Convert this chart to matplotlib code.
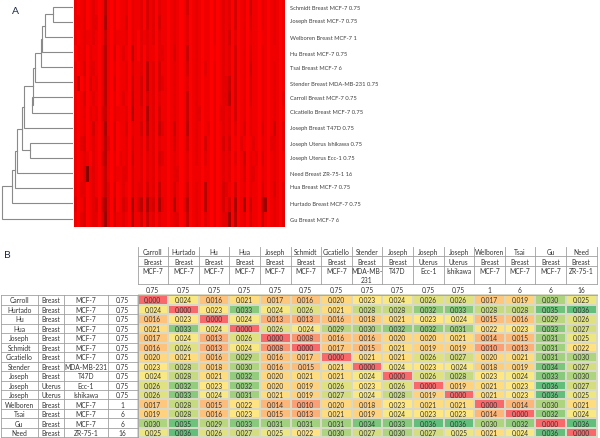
import numpy as np
import matplotlib
matplotlib.use("Agg")
import matplotlib.pyplot as plt
from matplotlib.colors import LinearSegmentedColormap, TwoSlopeNorm

plt.rcParams["font.family"] = ["Lato", "DejaVu Sans"]

# panel A
leaf_labels = [
    "Schmidt Breast MCF-7 0.75", "Joseph Breast MCF-7 0.75", "Welboren Breast MCF-7 1",
    "Hu Breast MCF-7 0.75", "Tsai Breast MCF-7 6", "Stender Breast MDA-MB-231 0.75",
    "Carroll Breast MCF-7 0.75", "Cicatiello Breast MCF-7 0.75", "Joseph Breast T47D 0.75",
    "Joseph Uterus Ishikawa 0.75", "Joseph Uterus Ecc-1 0.75", "Need Breast ZR-75-1 16",
    "Hua Breast MCF-7 0.75", "Hurtado Breast MCF-7 0.75", "Gu Breast MCF-7 6",
]
label_y = [8, 21, 38, 54, 68, 84, 99, 113, 129, 145, 159, 175, 188, 205, 221]

# merges: two nodes (leaf 0-14, then 15+ for merged ones) and the height in px
merges = [
    (0, 1, 53), (15, 2, 45), (16, 3, 42), (17, 4, 40.5), (18, 5, 34.5),
    (6, 7, 31.5), (19, 20, 32.5), (21, 8, 24), (9, 10, 30), (22, 23, 21.5),
    (24, 11, 17), (25, 12, 15), (26, 13, 11.5), (27, 14, 2),
]

# darkness of the stripes, one digit per stripe
stripes = [
    "1012012101 5102011202 1120312021 1012101301 2101102012 1203012041 1021012101",
    "1112012201 6102011302 1120312031 1012101201 2101102012 1203012031 1021012101",
    "1012112101 4102111202 1021212021 1012101201 2101102012 1302012021 1011012101",
    "0112021102 5103012105 1020211022 1013101401 2101101012 1203012031 1021011101",
    "1013022102 5102011203 1120512031 1012101301 2102102012 1203012041 1021012101",
    "1402031202 5103011204 1130512032 1012101201 2101102012 2403012031 1021012101",
    "1013012102 5102012105 1130312021 1012101401 2101102012 2503012031 1021012102",
    "1012021203 4102111206 1120612031 1012101401 2201102022 1203012021 1021012101",
    "1012013102 6103011302 1130512042 1014101501 2101202012 1202013021 1031014102",
    "1023012102 5203011203 1120312021 1013101301 2103102013 1301021012 1021022102",
    "1012102103 5102021204 1120212032 1012101201 2102102012 1202014021 2031012101",
    "1013912102 4102112203 1120212021 1012201201 1101102012 1201013022 1021012101",
    "1022012102 4203012103 1220312041 1013101301 2105102013 2103012021 1031013102",
    "2013012304 6204013207 1350623062 1016102501 2105102013 1306017041 1057012102",
    "1023012203 7203112106 1130412021 1012201401 2102102012 2705012031 1041012102",
]

# panel B
names = ["Carroll", "Hurtado", "Hu", "Hua", "Joseph", "Schmidt", "Cicatiello", "Stender",
         "Joseph", "Joseph", "Joseph", "Welboren", "Tsai", "Gu", "Need"]
tissues = ["Breast", "Breast", "Breast", "Breast", "Breast", "Breast", "Breast", "Breast",
           "Breast", "Uterus", "Uterus", "Breast", "Breast", "Breast", "Breast"]
cells = ["MCF-7", "MCF-7", "MCF-7", "MCF-7", "MCF-7", "MCF-7", "MCF-7", "MDA-MB-231",
         "T47D", "Ecc-1", "Ishikawa", "MCF-7", "MCF-7", "MCF-7", "ZR-75-1"]
doses = ["0.75"] * 11 + ["1", "6", "6", "16"]

dist = np.array([
    [.000, .024, .016, .021, .017, .016, .020, .023, .024, .026, .026, .017, .019, .030, .025],
    [.024, .000, .023, .033, .024, .026, .021, .028, .028, .032, .033, .028, .028, .035, .036],
    [.016, .023, .000, .024, .013, .013, .016, .018, .021, .023, .024, .015, .016, .029, .026],
    [.021, .033, .024, .000, .026, .024, .029, .030, .032, .032, .031, .022, .023, .033, .027],
    [.017, .024, .013, .026, .000, .008, .016, .016, .020, .020, .021, .014, .015, .031, .025],
    [.016, .026, .013, .024, .008, .000, .017, .015, .021, .019, .019, .010, .013, .031, .022],
    [.020, .021, .016, .029, .016, .017, .000, .021, .021, .026, .027, .020, .021, .031, .030],
    [.023, .028, .018, .030, .016, .015, .021, .000, .024, .023, .024, .018, .019, .034, .027],
    [.024, .028, .021, .032, .020, .021, .021, .024, .000, .026, .028, .023, .024, .033, .030],
    [.026, .032, .023, .032, .020, .019, .026, .023, .026, .000, .019, .021, .023, .036, .027],
    [.026, .033, .024, .031, .021, .019, .027, .024, .028, .019, .000, .021, .023, .036, .025],
    [.017, .028, .015, .022, .014, .010, .020, .018, .023, .021, .021, .000, .014, .030, .021],
    [.019, .028, .016, .023, .015, .013, .021, .019, .024, .023, .023, .014, .000, .032, .024],
    [.030, .035, .029, .033, .031, .031, .031, .034, .033, .036, .036, .030, .032, .000, .036],
    [.025, .036, .026, .027, .025, .022, .030, .027, .030, .027, .025, .021, .024, .036, .000],
])

W, H = 600, 439
fig = plt.figure(figsize=(W / 100, H / 100), dpi=100)

# whole figure in pixel coordinates
ax = fig.add_axes([0, 0, 1, 1])
ax.axis("off")

grid = np.array([[int(c) for c in row.replace(" ", "")] for row in stripes])
reds = LinearSegmentedColormap.from_list("reds", ["#ff0000", "#7a0000"])
ax.imshow(grid, cmap=reds, vmin=0, vmax=10, aspect="auto", interpolation="nearest",
          extent=(73.5, 284, 228, 1), zorder=1)

# dendrogram
leaf_y = [7.7 + 15.13 * i for i in range(15)]
node_x = [72.0] * 15
node_y = list(leaf_y)
for a, b, h in merges:
    ax.plot([node_x[a], h, h, node_x[b]], [node_y[a], node_y[a], node_y[b], node_y[b]],
            color="#8a8a8a", lw=0.8, solid_joinstyle="miter", zorder=1)
    node_x.append(h)
    node_y.append((node_y[a] + node_y[b]) / 2)

for name, y in zip(leaf_labels, label_y):
    ax.text(289.5, y, name, fontsize=4.15, color="#404040", va="center", ha="left")

ax.text(15, 11.5, "A", fontsize=7.5, color="#1f2a44", ha="center", va="center")
ax.text(7.5, 255.5, "B", fontsize=7.5, color="#1f2a44", ha="center", va="center")

# table
col_x = 137.5 + 30.6 * np.arange(16)
row_y = 296 + 9.5 * np.arange(16)
left_x = [0.5, 38, 64, 107.5, 137.5]
head_y = [248, 257, 266.5, 285, 296]
heat = LinearSegmentedColormap.from_list("excel", ["#f8696b", "#ffeb84", "#63be7b"])
norm = TwoSlopeNorm(vmin=0, vcenter=0.0235, vmax=0.036)
ax.pcolormesh(col_x, row_y, dist, cmap=heat, norm=norm, edgecolors="#d9d9c8", linewidth=0.3,
              zorder=1)
ax.set_xlim(0, W)
ax.set_ylim(H, 0)

line_c = "#a0a0a0"
for y in row_y:
    ax.plot([left_x[0], col_x[0]], [y, y], color=line_c, lw=0.6, zorder=2)
for x in left_x:
    ax.plot([x, x], [row_y[0], row_y[-1]], color=line_c, lw=0.6, zorder=2)
for x in col_x:
    ax.plot([x, x], [head_y[0], head_y[3]], color=line_c, lw=0.6, zorder=2)
for y in head_y[1:]:
    ax.plot([col_x[0], col_x[-1]], [y, y], color=line_c, lw=0.6, zorder=2)

txt = dict(fontsize=4.8, color="#333333", ha="center", va="center", zorder=3)
for i in range(15):
    yc = (row_y[i] + row_y[i + 1]) / 2
    ax.text((left_x[0] + left_x[1]) / 2, yc, names[i], **txt)
    ax.text((left_x[1] + left_x[2]) / 2, yc, tissues[i], **txt)
    ax.text((left_x[2] + left_x[3]) / 2, yc, cells[i], **txt)
    ax.text((left_x[3] + left_x[4]) / 2, yc, doses[i], **txt)

    xc = (col_x[i] + col_x[i + 1]) / 2
    ax.text(xc, 252.7, names[i], **txt)
    ax.text(xc, 262.3, tissues[i], **txt)
    if cells[i] == "MDA-MB-231":
        ax.text(xc, 271.5, "MDA-MB-", **txt)
        ax.text(xc, 281, "231", **txt)
    else:
        ax.text(xc, 271.5, cells[i], **txt)
    ax.text(xc, 291, doses[i], **txt)

    for j in range(15):
        ax.text((col_x[j] + col_x[j + 1]) / 2, yc, f"{dist[i, j]:.3f}", **txt)

fig.savefig("out.png", dpi=100)
